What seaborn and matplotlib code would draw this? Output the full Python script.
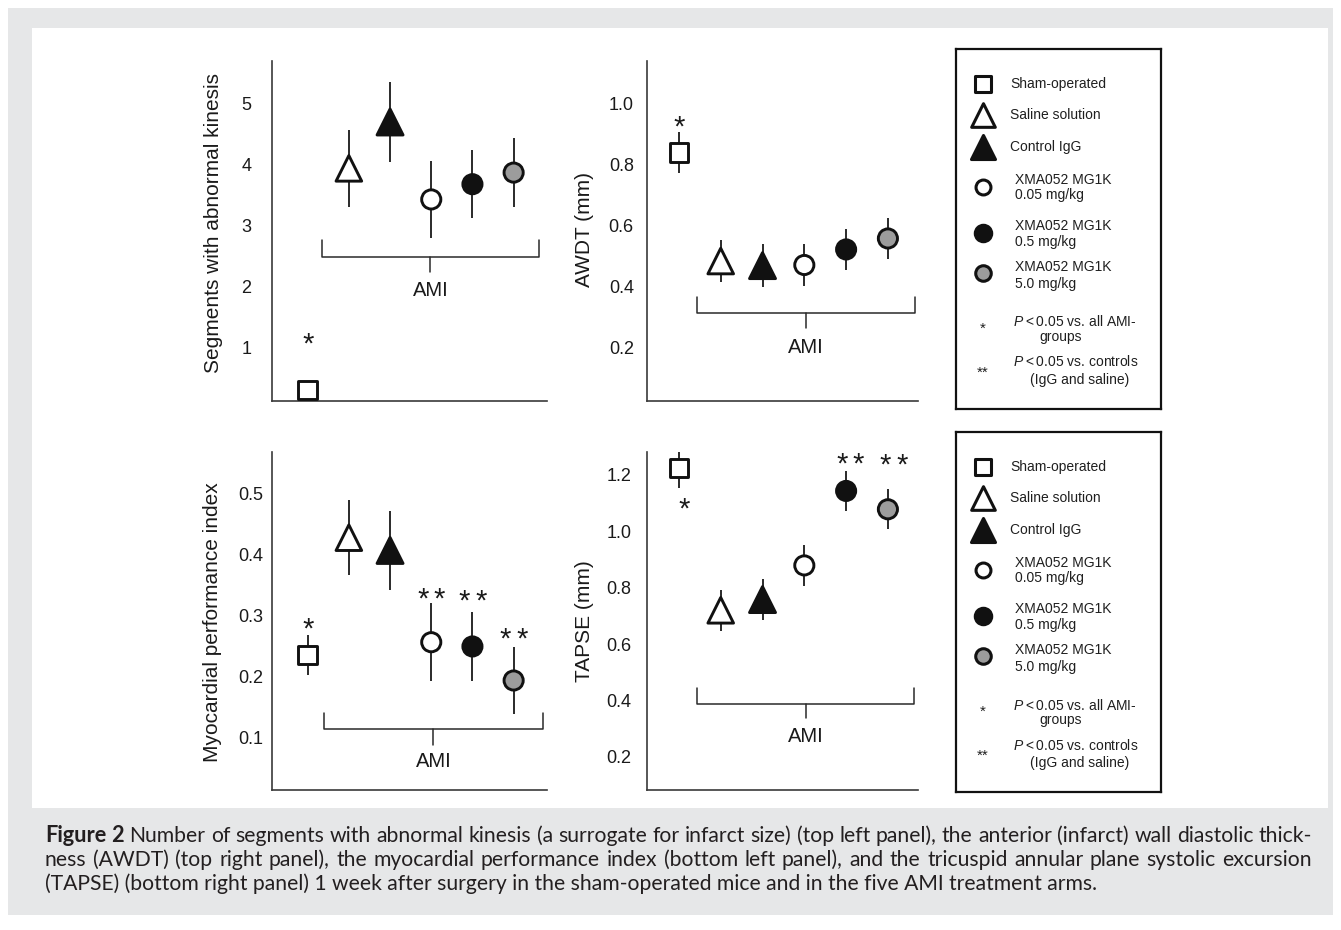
import numpy as np
import pandas as pd
import matplotlib
matplotlib.use("Agg")
import matplotlib.pyplot as plt
import seaborn as sns
from matplotlib.patches import Rectangle
from matplotlib import font_manager

sns.set_theme(style="white")
plt.rcParams['font.family'] = ['Liberation Sans', 'DejaVu Sans']
plt.rcParams['mathtext.fontset'] = 'custom'
plt.rcParams['mathtext.it'] = 'Liberation Sans:italic'
plt.rcParams['mathtext.rm'] = 'Liberation Sans'

# ---------------- data ----------------
groups = ["Sham-operated", "Saline solution", "Control IgG",
          "XMA052 MG1K 0.05 mg/kg", "XMA052 MG1K 0.5 mg/kg", "XMA052 MG1K 5.0 mg/kg"]

seg_mean = [0.30, 3.93, 4.69, 3.42, 3.67, 3.86]
seg_err = [0.0, 0.63, 0.66, 0.63, 0.56, 0.57]

awdt_mean = [0.838, 0.482, 0.467, 0.469, 0.520, 0.556]
awdt_err = [0.067, 0.069, 0.070, 0.069, 0.067, 0.067]

mpi_mean = [0.235, 0.428, 0.407, 0.256, 0.249, 0.193]
mpi_err = [0.033, 0.062, 0.065, 0.064, 0.057, 0.055]

tapse_mean = [1.225, 0.720, 0.758, 0.879, 1.143, 1.078]
tapse_err = [0.071, 0.073, 0.073, 0.073, 0.071, 0.071]

seg_ticks = [1, 2, 3, 4, 5]
awdt_ticks = [0.2, 0.4, 0.6, 0.8, 1.0]
mpi_ticks = [0.1, 0.2, 0.3, 0.4, 0.5]
tapse_ticks = [0.2, 0.4, 0.6, 0.8, 1.0, 1.2]

seg_ticklabels = ["1", "2", "3", "4", "5"]
awdt_ticklabels = ["0.2", "0.4", "0.6", "0.8", "1.0"]
mpi_ticklabels = ["0.1", "0.2", "0.3", "0.4", "0.5"]
tapse_ticklabels = ["0.2", "0.4", "0.6", "0.8", "1.0", "1.2"]

legend_lines = [["Sham-operated"], ["Saline solution"], ["Control IgG"],
                ["XMA052 MG1K", "0.05 mg/kg"], ["XMA052 MG1K", "0.5 mg/kg"],
                ["XMA052 MG1K", "5.0 mg/kg"]]

caption_bold = "Figure 2"
caption_lines = [
    "Number of segments with abnormal kinesis (a surrogate for infarct size) (top left panel), the anterior (infarct) wall diastolic thick-",
    "ness (AWDT) (top right panel), the myocardial performance index (bottom left panel), and the tricuspid annular plane systolic excursion",
    "(TAPSE) (bottom right panel) 1 week after surgery in the sham-operated mice and in the five AMI treatment arms.",
]

# ---------------- styles ----------------
EDGE = "#111111"
face_colors = {groups[0]: "white", groups[1]: "white", groups[2]: "#111111",
               groups[3]: "white", groups[4]: "#111111", groups[5]: "#9c9c9c"}
marker_map = {groups[0]: "s", groups[1]: "^", groups[2]: "^",
              groups[3]: "o", groups[4]: "o", groups[5]: "o"}
size_map = {groups[0]: 175, groups[1]: 340, groups[2]: 350,
            groups[3]: 190, groups[4]: 190, groups[5]: 190}

W, H = 1341, 930
fig = plt.figure(figsize=(W / 100, H / 100), dpi=100)
fig.patch.set_facecolor("white")


def fx(px):
    return px / W


def fy(py):
    return 1 - py / H


fig.add_artist(Rectangle((fx(8), fy(915)), fx(1333) - fx(8), fy(8) - fy(915),
                         transform=fig.transFigure, facecolor="#e6e7e8",
                         edgecolor="none", zorder=-20))
fig.add_artist(Rectangle((fx(32), fy(808)), fx(1328) - fx(32), fy(28) - fy(808),
                         transform=fig.transFigure, facecolor="white",
                         edgecolor="none", zorder=-19))

panels = [
    dict(box=(272, 547, 61, 401), xlim=(-0.866, 5.81), ylim=(0.115, 5.69),
         ticks=seg_ticks, labels=seg_ticklabels, pad=15,
         ylabel="Segments with abnormal kinesis", lab=(-0.2145, 0.524),
         mean=seg_mean, err=seg_err,
         brace=(0.348, 5.615, 2.75, 2.475, 2.23), ami=1.93,
         stars=[(0, 1.16, 1)]),
    dict(box=(647, 918, 61, 401), xlim=(-0.764, 5.72), ylim=(0.023, 1.138),
         ticks=awdt_ticks, labels=awdt_ticklabels, pad=9.5,
         ylabel="AWDT (mm)", lab=(-0.229, 0.503),
         mean=awdt_mean, err=awdt_err,
         brace=(0.433, 5.65, 0.364, 0.311, 0.262), ami=0.20,
         stars=[(0, 0.944, 1)]),
    dict(box=(272, 547, 452, 790), xlim=(-0.866, 5.81), ylim=(0.0128, 0.569),
         ticks=mpi_ticks, labels=mpi_ticklabels, pad=6,
         ylabel="Myocardial performance index", lab=(-0.218, 0.497),
         mean=mpi_mean, err=mpi_err,
         brace=(0.396, 5.71, 0.1395, 0.113, 0.087), ami=0.059,
         stars=[(0, 0.289, 1), (3, 0.337, 2), (4, 0.335, 2), (5, 0.271, 2)]),
    dict(box=(647, 918, 452, 790), xlim=(-0.764, 5.72), ylim=(0.083, 1.281),
         ticks=tapse_ticks, labels=tapse_ticklabels, pad=11,
         ylabel="TAPSE (mm)", lab=(-0.229, 0.5),
         mean=tapse_mean, err=tapse_err,
         brace=(0.433, 5.63, 0.445, 0.388, 0.338), ami=0.271,
         stars=[(0.12, 1.10, 1), (4.1, 1.26, 2), (5.13, 1.257, 2)]),
]

for p in panels:
    l, r, t, b = p["box"]
    ax = fig.add_axes([fx(l), fy(b), fx(r) - fx(l), fy(t) - fy(b)])
    ax.set_facecolor("none")
    df = pd.DataFrame({"group": groups, "pos": np.arange(len(groups)),
                       "value": p["mean"], "err": p["err"]})
    ax.errorbar(df["pos"], df["value"], yerr=df["err"], fmt="none",
                ecolor="#2a2a2a", elinewidth=1.4, capsize=0, zorder=2)
    sns.scatterplot(data=df, x="pos", y="value", hue="group", style="group",
                    size="group", palette=face_colors, markers=marker_map,
                    sizes=size_map, edgecolor=EDGE, linewidth=2.1,
                    legend=False, ax=ax, zorder=3)
    ax.set_xlim(*p["xlim"])
    ax.set_ylim(*p["ylim"])
    ax.set_xticks([])
    ax.set_yticks(p["ticks"])
    ax.set_yticklabels(p["labels"])
    ax.tick_params(axis="y", length=0, pad=p["pad"], labelsize=13,
                   labelcolor="#1a1a1a")
    ax.set_xlabel("")
    ax.set_ylabel(p["ylabel"], fontsize=15, color="#1a1a1a", va="center",
                  ha="center")
    ax.yaxis.set_label_coords(*p["lab"])
    for s in ["top", "right"]:
        ax.spines[s].set_visible(False)
    for s in ["left", "bottom"]:
        ax.spines[s].set_color("#3a3a3a")
        ax.spines[s].set_linewidth(1.2)
    ax.grid(False)
    # AMI brace
    x0, x1, ytop, ymid, ytip = p["brace"]
    xm = (x0 + x1) / 2
    ax.plot([x0, x0, x1, x1], [ytop, ymid, ymid, ytop], color="#2a2a2a",
            lw=1.1, solid_joinstyle="round", zorder=1)
    ax.plot([xm, xm], [ymid, ytip], color="#2a2a2a", lw=1.1, zorder=1)
    ax.text(xm, p["ami"], "AMI", ha="center", va="center", fontsize=14.5,
            color="#1a1a1a")
    for sx, sy, n in p["stars"]:
        offs = [0] if n == 1 else [-6, 6]
        for o in offs:
            ax.annotate("*", xy=(sx, sy), xytext=(o, -5), textcoords="offset points",
                        ha="center", va="center", fontsize=21, color="#1a1a1a")

# ---------------- legends ----------------
leg_rows = [35, 66, 98, 138, 184, 224]
leg_text_rows = [[35], [66], [98], [131, 146], [177, 193], [218, 235]]
leg_sizes = {groups[0]: 120, groups[1]: 290, groups[2]: 300,
             groups[3]: 115, groups[4]: 140, groups[5]: 125}
for top in (49, 432):
    lax = fig.add_axes([fx(956), fy(top + 360), fx(1161) - fx(956), fy(top) - fy(top + 360)])
    lax.set_xlim(0, 205)
    lax.set_ylim(360, 0)
    lax.set_xticks([])
    lax.set_yticks([])
    lax.set_facecolor("white")
    for s in lax.spines.values():
        s.set_visible(True)
        s.set_color("#111111")
        s.set_linewidth(1.6)
    for i, g in enumerate(groups):
        lax.scatter([27], [leg_rows[i]], marker=marker_map[g], s=leg_sizes[g],
                    facecolor=face_colors[g], edgecolor=EDGE, linewidth=2.2,
                    zorder=3)
        xt = 54 if len(legend_lines[i]) == 1 else 59
        for line, yy in zip(legend_lines[i], leg_text_rows[i]):
            lax.text(xt, yy, line, ha="left", va="center", fontsize=10,
                     color="#1f1f1f")
    lax.text(27, 280, "*", ha="center", va="center", fontsize=11, color="#1f1f1f")
    lax.text(27, 324, "**", ha="center", va="center", fontsize=11, color="#1f1f1f")
    lax.text(57, 273, r"$\it{P}$" + "\u2009<\u20090.05 vs. all AMI-", ha="left",
             va="center", fontsize=10, color="#1f1f1f")
    lax.text(83, 288, "groups", ha="left", va="center", fontsize=10, color="#1f1f1f")
    lax.text(57, 313, r"$\it{P}$" + "\u2009<\u20090.05 vs. controls", ha="left",
             va="center", fontsize=10, color="#1f1f1f")
    lax.text(74, 331, "(IgG and saline)", ha="left", va="center", fontsize=10,
             color="#1f1f1f")

# ---------------- caption ----------------
cap_family = "Lato"
for fam in ["Liberation Sans Narrow", "Lato", "Open Sans"]:
    try:
        font_manager.findfont(font_manager.FontProperties(family=fam),
                              fallback_to_default=False)
        cap_family = fam
        break
    except Exception:
        pass

renderer = fig.canvas.get_renderer()


def measure(s, size, weight="normal"):
    t = fig.text(0, 0, s, fontsize=size, family=cap_family, weight=weight)
    w = t.get_window_extent(renderer).width
    t.remove()
    return w


X0, X1 = 45, 1312
words1 = [(w, "bold") for w in caption_bold.split()] + \
         [(w, "normal") for w in caption_lines[0].split()]
words2 = [(w, "normal") for w in caption_lines[1].split()]

base = 10
natural = measure(caption_lines[1], base)
cap_size = base * (X1 - X0) / natural * 0.985
baselines = [842, 866, 890]


def justify(words, bl):
    widths = [measure(w, cap_size * (1.03 if wt == "bold" else 1.0), wt)
              for w, wt in words]
    gap = (X1 - X0 - sum(widths)) / (len(words) - 1)
    x = X0
    for (w, wt), wd in zip(words, widths):
        fig.text(fx(x), fy(bl), w, fontsize=cap_size * (1.03 if wt == "bold" else 1.0),
                 family=cap_family, weight=wt, va="baseline", ha="left",
                 color="#231f20")
        x += wd + gap


justify(words1, baselines[0])
justify(words2, baselines[1])
fig.text(fx(X0), fy(baselines[2]), caption_lines[2], fontsize=cap_size,
         family=cap_family, va="baseline", ha="left", color="#231f20")

fig.savefig("out.png", dpi=100, facecolor=fig.get_facecolor())
